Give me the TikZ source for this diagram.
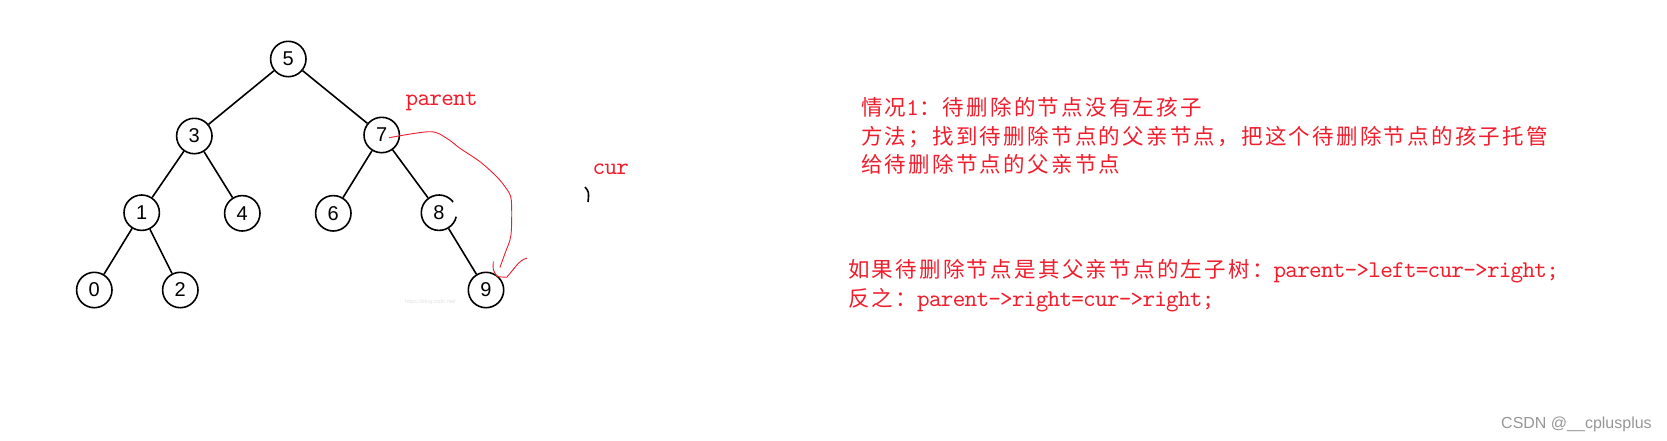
\documentclass[tikz,border=0pt]{standalone}
\usepackage{fontspec}
\setmainfont{Liberation Sans}
\newfontfamily\cjfont[LetterSpace=10.5]{Noto Sans CJK SC}
\newfontfamily\monofont[LetterSpace=-3.1]{lmmono10-regular.otf}
\newcommand\zh[1]{{\cjfont\fontsize{21.5}{24}\selectfont #1}}
\newcommand\mo[1]{{\monofont\fontsize{24}{26}\selectfont #1}}
\definecolor{txtred}{RGB}{240,30,45}
\definecolor{wmgray}{RGB}{150,150,150}
\begin{document}
\begin{tikzpicture}[x=1pt,y=-1pt,
  nd/.style={circle, draw=black, line width=1.6pt, fill=white, minimum size=35.4pt, inner sep=0pt, font=\fontsize{20}{22}\selectfont},
  edge/.style={line width=1.6pt, black},
  redtxt/.style={text=txtred, inner sep=0pt, anchor=base west},
  hand/.style={txtred, line width=0.9pt, line cap=round, line join=round}]
\useasboundingbox (0,0) rectangle (1667,440);
% faint watermark
\node[anchor=west, inner sep=0pt, text=black!12, font=\fontsize{5.5}{6}\selectfont] (wm) at (405,301.7) {https://blog.csdn.net/};
% tree nodes
\node[nd] (n5) at (288.3,59) {5};
\node[nd] (n3) at (194.3,136) {3};
\node[nd] (n7) at (381.7,135) {7};
\node[nd] (n1) at (141.7,212.7) {1};
\node[nd] (n4) at (242.3,213.3) {4};
\node[nd] (n6) at (333.3,213.3) {6};
\node[nd, draw=none] (n8) at (439,212.7) {8};
\node[nd] (n0) at (94.3,290) {0};
\node[nd] (n2) at (180.3,290) {2};
\node[nd] (n9) at (486,290) {9};
% broken circle of node 8
\draw[line width=1.6pt] ([shift={(13:17.7)}]n8.center) arc[start angle=13, end angle=323, radius=17.7];
% stray arc piece
\draw[line width=1.6pt] (585,187) .. controls (589,192) .. (588,202);
% edges
\draw[edge] (n5) -- (n3);
\draw[edge] (n5) -- (n7);
\draw[edge] (n3) -- (n1);
\draw[edge] (n3) -- (n4);
\draw[edge] (n7) -- (n6);
\draw[edge] (n7) -- (n8);
\draw[edge] (n1) -- (n0);
\draw[edge] (n1) -- (n2);
\draw[edge] (n8) -- (n9);
% hand-drawn red arrow
\draw[hand] plot[smooth, tension=0.55] coordinates {([xshift=7.6pt,yshift=-2.7pt]n7.center) (430,131.7) (446.7,138.3) (460,148.3) (480,161.7) (496.7,176.7) (505,186.7) (510.7,196.7) (511.7,213.3) (510.7,236.7) (505,253.3) (500,267.3)};
\draw[hand] (493.3,261.7) .. controls (492.8,270) .. (497.3,276.7) -- (506.7,277.3) .. controls (515,268) and (519,260) .. (526.7,258.3);
% labels
\node[redtxt] (lparent) at (405.5,105) {\mo{parent}};
\node[redtxt] (lcur) at (592.5,174) {\mo{cur}};
\node[redtxt] (t1) at (861,115.7) {\zh{情况}\mo{1}\zh{：待删除的节点没有左孩子}};
\node[redtxt] (t2) at (861,144.3) {\zh{方法；找到待删除节点的父亲节点，把这个待删除节点的孩子托管}};
\node[redtxt] (t3) at (861,172.3) {\zh{给待删除节点的父亲节点}};
\node[redtxt] (t4) at (848,277) {\zh{如果待删除节点是其父亲节点的左子树：}\mo{parent->left=cur->right;}};
\node[redtxt] (t5) at (848,306.3) {\zh{反之：}\mo{parent->right=cur->right;}};
% credit
\node[anchor=base west, inner sep=0pt, text=wmgray, font=\fontsize{16}{18}\selectfont] (credit) at (1501,428.3) {CSDN @\_\_cplusplus};
\end{tikzpicture}
\end{document}
